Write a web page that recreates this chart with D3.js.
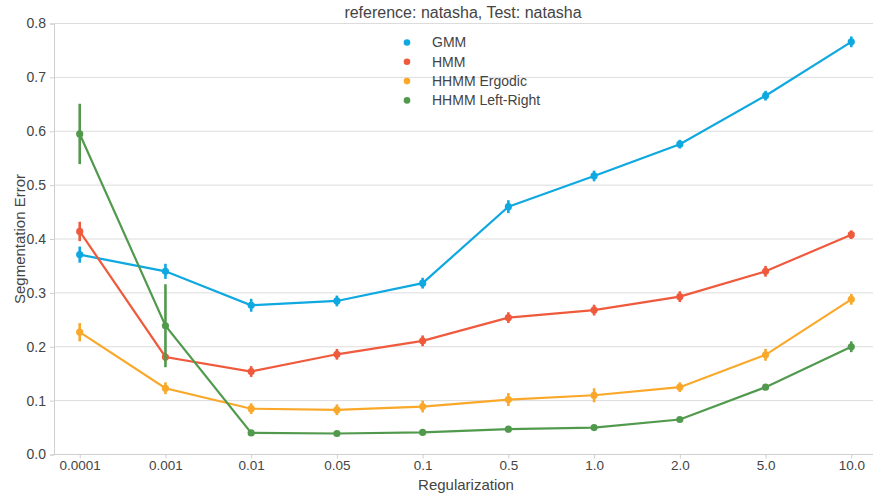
<!DOCTYPE html>
<html>
<head>
<meta charset="utf-8">
<script src="https://cdn.jsdelivr.net/npm/d3@7"></script>
<style>
  body { margin: 0; background: #fff; }
  text { font-family: "Liberation Sans", Arial, sans-serif; }
</style>
</head>
<body>
<div id="chart"></div>
<script>
// Categories (regularization values)
const regularization = ["0.0001", "0.001", "0.01", "0.05", "0.1", "0.5", "1.0", "2.0", "5.0", "10.0"];

const seriesNames = ["GMM", "HMM", "HHMM Ergodic", "HHMM Left-Right"];
const seriesColors = ["#0fa8e0", "#ef5a3d", "#f9a82a", "#519a4d"];

// Mean segmentation error per series
const gmmMean = [0.371, 0.340, 0.277, 0.285, 0.318, 0.460, 0.517, 0.576, 0.666, 0.766];
const hmmMean = [0.414, 0.181, 0.154, 0.186, 0.211, 0.254, 0.268, 0.293, 0.340, 0.408];
const ergodicMean = [0.227, 0.123, 0.085, 0.083, 0.089, 0.102, 0.110, 0.125, 0.185, 0.288];
const leftRightMean = [0.595, 0.239, 0.040, 0.039, 0.041, 0.047, 0.050, 0.065, 0.125, 0.200];

// Error bar half-widths
const gmmErr = [0.015, 0.014, 0.012, 0.010, 0.010, 0.012, 0.010, 0.008, 0.009, 0.010];
const hmmErr = [0.018, 0.008, 0.010, 0.010, 0.010, 0.010, 0.010, 0.010, 0.010, 0.008];
const ergodicErr = [0.017, 0.011, 0.010, 0.010, 0.011, 0.012, 0.013, 0.009, 0.011, 0.010];
const leftRightErr = [0.056, 0.077, 0.003, 0.003, 0.003, 0.003, 0.003, 0.003, 0.004, 0.010];

const yTicks = [0.0, 0.1, 0.2, 0.3, 0.4, 0.5, 0.6, 0.7, 0.8];

const series = [
  { name: seriesNames[0], color: seriesColors[0], mean: gmmMean, err: gmmErr },
  { name: seriesNames[1], color: seriesColors[1], mean: hmmMean, err: hmmErr },
  { name: seriesNames[2], color: seriesColors[2], mean: ergodicMean, err: ergodicErr },
  { name: seriesNames[3], color: seriesColors[3], mean: leftRightMean, err: leftRightErr },
];

const width = 873;
const height = 493;
const marginLeft = 54;
const marginTop = 23.5;
const marginBottom = 38.5;

// x: category index, matplotlib-style limits -0.3 .. 9.3
const xScale = d3.scaleLinear()
  .domain([-0.3, regularization.length - 1 + 0.3])
  .range([marginLeft, 877]);

const yScale = d3.scaleLinear()
  .domain([0, 0.8])
  .range([height - marginBottom, marginTop]);

const svg = d3.select("#chart")
  .append("svg")
  .attr("width", width)
  .attr("height", height)
  .attr("viewBox", [0, 0, width, height]);

// Grid lines
svg.append("g")
  .attr("class", "grid")
  .selectAll("line")
  .data(yTicks)
  .join("line")
  .attr("x1", marginLeft)
  .attr("x2", width)
  .attr("y1", (d) => yScale(d))
  .attr("y2", (d) => yScale(d))
  .attr("stroke", "#dcdcdc")
  .attr("stroke-width", 1);

// Y axis
const yAxis = d3.axisLeft(yScale)
  .tickValues(yTicks)
  .tickFormat(d3.format(".1f"))
  .tickSize(4)
  .tickPadding(4);

svg.append("g")
  .attr("transform", `translate(${marginLeft},0)`)
  .call(yAxis)
  .call((g) => g.select(".domain").attr("stroke", "#cfcfcf"))
  .call((g) => g.selectAll(".tick line").attr("stroke", "#cfcfcf"))
  .call((g) => g.selectAll(".tick text")
    .attr("fill", "#444")
    .attr("font-size", 14)
    .style("font-family", "Liberation Sans, Arial, sans-serif"));

// X axis
const xAxis = d3.axisBottom(xScale)
  .tickValues(d3.range(regularization.length))
  .tickFormat((i) => regularization[i])
  .tickSize(4)
  .tickPadding(2);

svg.append("g")
  .attr("transform", `translate(0,${height - marginBottom})`)
  .call(xAxis)
  .call((g) => g.select(".domain")
    .attr("d", `M${marginLeft},0H${width}`)
    .attr("stroke", "#cfcfcf"))
  .call((g) => g.selectAll(".tick line").attr("stroke", "#cfcfcf"))
  .call((g) => g.selectAll(".tick text")
    .attr("fill", "#444")
    .attr("font-size", 13.5)
    .style("font-family", "Liberation Sans, Arial, sans-serif"));

// Axis labels and title
svg.append("text")
  .attr("x", 466)
  .attr("y", 489.5)
  .attr("text-anchor", "middle")
  .attr("font-size", 15)
  .attr("fill", "#444")
  .text("Regularization");

svg.append("text")
  .attr("transform", `translate(25,${yScale(0.4)}) rotate(-90)`)
  .attr("text-anchor", "middle")
  .attr("font-size", 15)
  .attr("fill", "#444")
  .text("Segmentation Error");

svg.append("text")
  .attr("x", 463)
  .attr("y", 18)
  .attr("text-anchor", "middle")
  .attr("font-size", 16)
  .attr("fill", "#444")
  .text("reference: natasha, Test: natasha");

// Series
const line = d3.line()
  .x((d, i) => xScale(i))
  .y((d) => yScale(d));

const groups = svg.append("g")
  .attr("class", "series")
  .selectAll("g")
  .data(series)
  .join("g");

groups.append("path")
  .attr("d", (s) => line(s.mean))
  .attr("fill", "none")
  .attr("stroke", (s) => s.color)
  .attr("stroke-width", 2.2);

groups.selectAll(".errbar")
  .data((s) => s.mean.map((m, i) => ({ m, e: s.err[i], i, color: s.color })))
  .join("line")
  .attr("class", "errbar")
  .attr("x1", (d) => xScale(d.i))
  .attr("x2", (d) => xScale(d.i))
  .attr("y1", (d) => yScale(d.m - d.e))
  .attr("y2", (d) => yScale(d.m + d.e))
  .attr("stroke", (d) => d.color)
  .attr("stroke-width", 2.6);

groups.selectAll(".pt")
  .data((s) => s.mean.map((m, i) => ({ m, i, color: s.color })))
  .join("circle")
  .attr("class", "pt")
  .attr("cx", (d) => xScale(d.i))
  .attr("cy", (d) => yScale(d.m))
  .attr("r", 3.6)
  .attr("fill", (d) => d.color);

// Legend
const legend = svg.append("g")
  .attr("transform", "translate(407,42.5)");

const items = legend.selectAll("g")
  .data(series)
  .join("g")
  .attr("transform", (d, i) => `translate(0,${i * 19.3})`);

items.append("circle")
  .attr("r", 3.3)
  .attr("fill", (d) => d.color);

items.append("text")
  .attr("x", 25)
  .attr("y", 0)
  .attr("dy", "0.35em")
  .attr("font-size", 14)
  .attr("fill", "#444")
  .text((d) => d.name);
</script>
</body>
</html>
